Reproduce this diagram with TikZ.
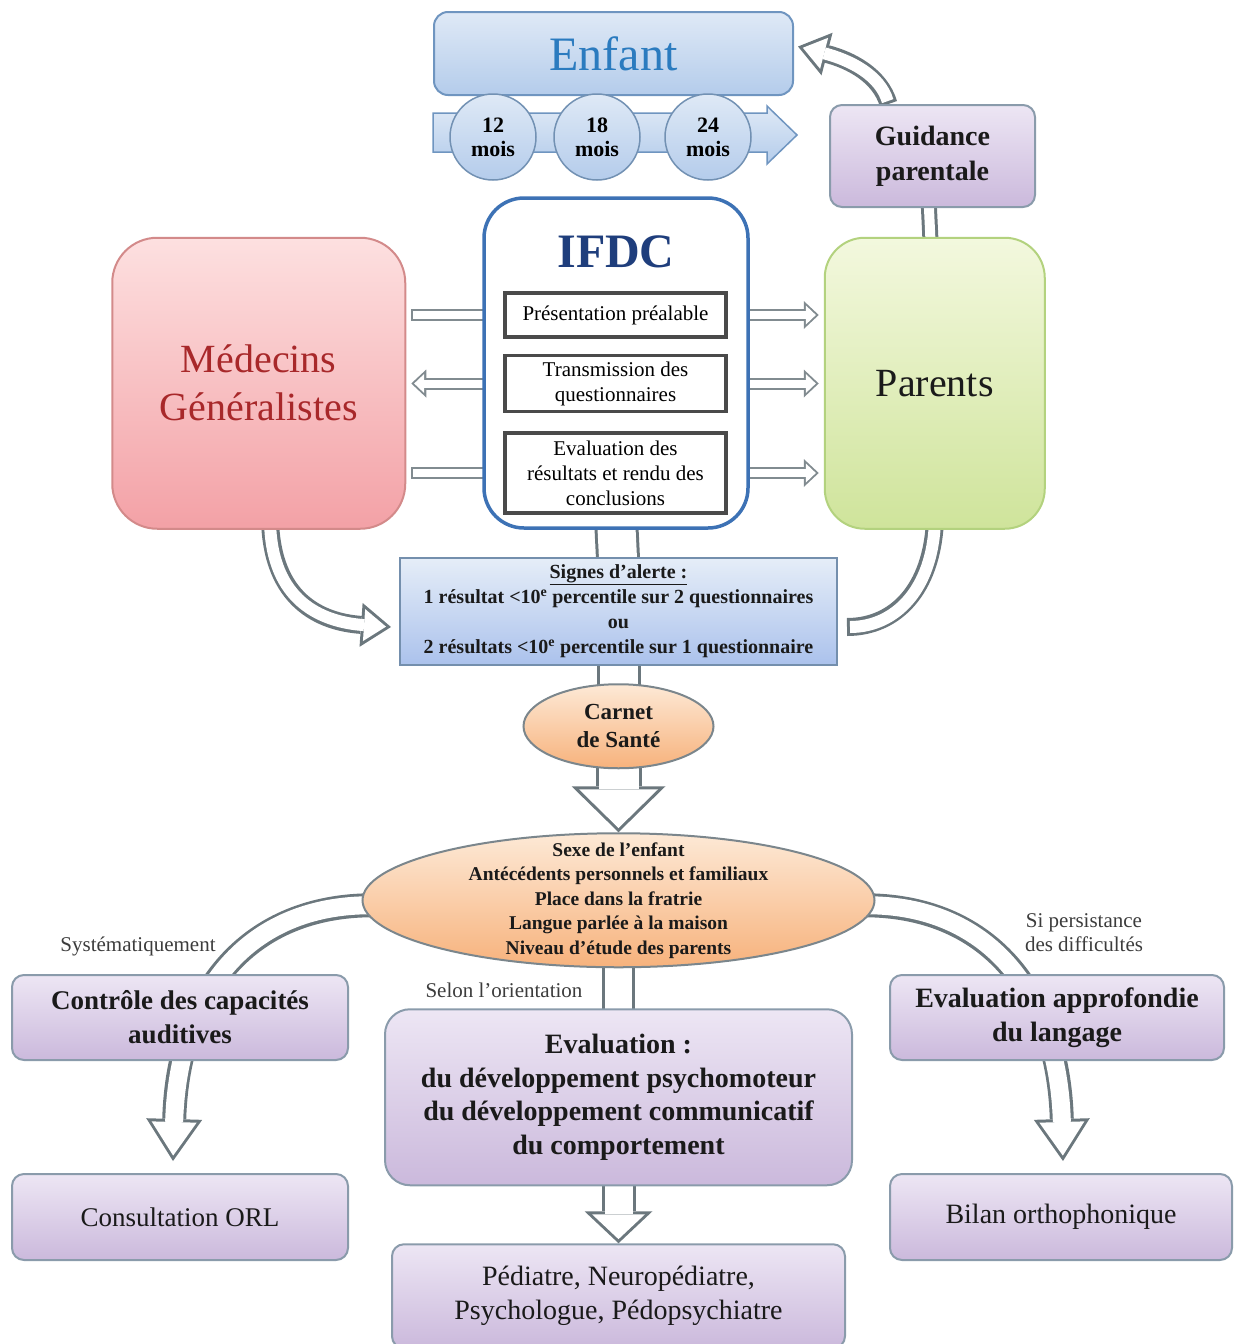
\documentclass[tikz,border=0pt]{standalone}
\usepackage{fontspec}
\setmainfont{Liberation Serif}
\usepackage{tikz}
\usetikzlibrary{arrows.meta, positioning, shapes.geometric, calc}

\definecolor{arrgray}{HTML}{6B777D}
\definecolor{lilastop}{HTML}{EDE6F4}
\definecolor{lilasbot}{HTML}{CBB9DC}
\definecolor{lilasline}{HTML}{8A9BAB}
\definecolor{bleutop}{HTML}{DFE9F6}
\definecolor{bleubot}{HTML}{B4CCEB}
\definecolor{bleuline}{HTML}{6F95C0}
\definecolor{rosetop}{HTML}{FDE0E0}
\definecolor{rosebot}{HTML}{F3A1A6}
\definecolor{roseline}{HTML}{D38A8A}
\definecolor{verttop}{HTML}{F3F8DE}
\definecolor{vertbot}{HTML}{CFE49B}
\definecolor{vertline}{HTML}{B3D27E}
\definecolor{ortop}{HTML}{FDE9D6}
\definecolor{orbot}{HTML}{F7B27C}
\definecolor{orline}{HTML}{7B868C}
\definecolor{ifdcline}{HTML}{3D72B5}
\definecolor{ifdcbleu}{HTML}{1F3E7C}
\definecolor{medrouge}{HTML}{A8282A}
\definecolor{enfantbleu}{HTML}{2B7BBF}
\definecolor{sousline}{HTML}{4A4A4A}
\definecolor{textdark}{HTML}{1A1A1A}

\pgfdeclarelayer{back}
\pgfsetlayers{back,main}

\begin{document}
\begin{tikzpicture}[
  x=1pt, y=-1pt,
  node distance=30pt,
  >=Latex,
  box/.style={
    rectangle, rounded corners=12pt,
    align=center, inner sep=2pt,
    text=textdark,
  },
  lilas/.style={box, draw=lilasline, line width=2pt, top color=lilastop, bottom color=lilasbot},
  bleu/.style={box, draw=bleuline, line width=2pt, top color=bleutop, bottom color=bleubot},
  rose/.style={box, draw=roseline, line width=2pt, top color=rosetop, bottom color=rosebot, rounded corners=45pt},
  vert/.style={box, draw=vertline, line width=2pt, top color=verttop, bottom color=vertbot, rounded corners=40pt},
  ovale/.style={ellipse, draw=orline, line width=2pt, top color=ortop, bottom color=orbot, align=center, inner sep=0pt, text=textdark},
  sousbox/.style={rectangle, draw=sousline, line width=3.5pt, fill=white, align=center, minimum width=221pt,
    font=\fontsize{21}{25}\selectfont},
  mois/.style={circle, draw=bleuline!80!gray, line width=1.5pt, top color=bleutop, bottom color=bleubot,
    minimum size=86pt, inner sep=0pt, align=center, font=\fontsize{22}{24}\selectfont\bfseries},
  etiquette/.style={align=center, text=textdark!85, font=\fontsize{21}{24}\selectfont},
  % hollow arrows
  band/.style={draw=arrgray, line width=#1,
    postaction={draw=white, line width=#1-6pt, shorten <=3pt, shorten >=3pt}},
  harrow/.style n args={6}{draw=arrgray, line width=#1, -{Triangle[width=#2, length=#3, line width=0pt]},
    postaction={draw=white, line width=#1-6pt, shorten <=3pt, shorten >=#6,
      -{Triangle[width=#4, length=#5, line width=0pt]}}},
  thinband/.style={draw=arrgray!85, line width=12pt,
    postaction={draw=white, line width=8pt, shorten <=2pt, shorten >=2pt}},
  thinarrow/.style={draw=arrgray!85, line width=12pt, -{Triangle[width=28pt, length=15pt, line width=0pt]},
    postaction={draw=white, line width=8pt, shorten <=2pt, shorten >=2.9pt,
      -{Triangle[width=19pt, length=10pt, line width=0pt]}}},
  courbe/.style={harrow={18pt}{44pt}{30pt}{32pt}{22pt}{5pt}},
  longue/.style={harrow={24pt}{56pt}{42pt}{45pt}{33.6pt}{5.4pt}},
]
\useasboundingbox (0,0) rectangle (1234,1344);

% --- Enfant et ages ---
\node[bleu, minimum width=359pt, minimum height=83pt, rounded corners=14pt, text=enfantbleu,
  font=\fontsize{48}{50}\selectfont] (enfant) at (613.5,53.5) {Enfant};
\draw[draw=bleuline, line width=1.5pt, top color=bleutop, bottom color=bleubot]
  (433,113) -- (767,113) -- (767,106) -- (797,135) -- (767,164) -- (767,152) -- (433,152) -- cycle;
\foreach \m/\xc in {12/493, 18/597, 24/708}
  \node[mois] (m\m) at (\xc,137) {\m\\mois};

\node[lilas, minimum width=205pt, minimum height=102pt, font=\fontsize{28}{35}\selectfont\bfseries]
  (guid) at (932.5,156) {Guidance\\parentale};

% --- IFDC ---
\node[box, draw=ifdcline, line width=3.5pt, fill=white, rounded corners=40pt,
  minimum width=264pt, minimum height=330pt] (ifdc) at (616,363) {};
\node[font=\fontsize{48}{50}\selectfont\bfseries, text=ifdcbleu] (titre) at (616,252) {IFDC};
\node[sousbox, minimum height=44pt] (pres) at (615.5,315) {Présentation préalable};
\node[sousbox, minimum height=56pt, below=15pt of pres] (trans) {Transmission des\\questionnaires};
\node[sousbox, minimum height=80pt, below=18pt of trans] (evalres) {Evaluation des\\résultats et rendu des\\conclusions};

% --- Medecins / Parents ---
\node[rose, minimum width=293pt, minimum height=291pt, text=medrouge, font=\fontsize{40}{48}\selectfont,
  left=76pt of ifdc.south west, anchor=south east] (med) {Médecins\\Généralistes};
\node[vert, minimum width=220pt, minimum height=291pt, font=\fontsize{40}{44}\selectfont,
  right=74pt of ifdc.south east, anchor=south west] (parents) {Parents};

% --- Signes d'alerte ---
\node[rectangle, draw=bleuline!70!gray, line width=2.5pt, top color=bleutop!80, bottom color=bleubot!95!blue,
  minimum width=437pt, minimum height=107pt, align=center, inner sep=0pt, text=textdark,
  font=\fontsize{20}{25}\selectfont\bfseries, below=27pt of ifdc, xshift=2.5pt] (signes)
  {\underline{Signes d'alerte :}\\
   1 résultat <10\textsuperscript{e} percentile sur 2 questionnaires\\
   ou\\
   2 résultats <10\textsuperscript{e} percentile sur 1 questionnaire};

\node[ovale, minimum width=190pt, minimum height=84pt, font=\fontsize{23}{28}\selectfont\bfseries,
  below=17pt of signes] (carnet) {Carnet\\de Santé};
\node[ovale, minimum width=512pt, minimum height=134pt, inner ysep=-20pt,
  font=\fontsize{19.5}{24.5}\selectfont\bfseries, below=63pt of carnet] (facteurs)
  {Sexe de l'enfant\\Antécédents personnels et familiaux\\Place dans la fratrie\\Langue parlée à la maison\\Niveau d'étude des parents};

% --- Orientations ---
\node[lilas, minimum width=336pt, minimum height=85pt, font=\fontsize{27}{34}\selectfont\bfseries]
  (ctrl) at (180,1017.5) {Contrôle des capacités\\auditives};
\node[lilas, minimum width=336pt, minimum height=86pt, font=\fontsize{27}{34}\selectfont,
  below=112pt of ctrl] (orl) {Consultation ORL};
\node[lilas, minimum width=467pt, minimum height=176pt, rounded corners=25pt,
  font=\fontsize{28}{33.5}\selectfont\bfseries, below=40pt of facteurs] (evalbox)
  {Evaluation :\\du développement psychomoteur\\du développement communicatif\\du comportement};
\node[lilas, minimum width=453pt, minimum height=104pt, font=\fontsize{28}{34}\selectfont,
  below=57pt of evalbox] (pedia) {Pédiatre, Neuropédiatre,\\Psychologue, Pédopsychiatre};
\node[lilas, minimum width=334pt, minimum height=85pt, font=\fontsize{28}{34}\selectfont\bfseries]
  (eappro) at (1057,1017.5) {Evaluation approfondie\\du langage};
\node[lilas, minimum width=342pt, minimum height=86pt, font=\fontsize{28}{34}\selectfont,
  below=112pt of eappro, xshift=4pt] (bilan) {Bilan orthophonique};

\node[etiquette] (syst) at (138,946) {Systématiquement};
\node[etiquette] (persist) at (1084,933) {Si persistance\\des difficultés};
\node[etiquette] (orient) at (504,990) {Selon l'orientation};

% --- Connectors ---
\begin{pgfonlayer}{back}
\draw[courbe] ([xshift=-44pt]guid.north) .. controls (880,75) and (850,60) .. ($(enfant.east)+(4,-7)$);
\draw[band=16pt] ([xshift=-4pt,yshift=10pt]guid.south) -- ([xshift=-4pt,yshift=-10pt]parents.north);

\draw[thinband] ($(med.east |- pres)+(5,0)$) -- ($(ifdc.west |- pres)+(12,0)$);
\draw[thinarrow] ($(ifdc.west |- trans)+(12,0)$) -- ($(med.east |- trans)+(5,0)$);
\draw[thinband] ($(med.east |- evalres)+(5,0)$) -- ($(ifdc.west |- evalres)+(12,0)$);
\foreach \r in {pres, trans, evalres}
  \draw[thinarrow] ($(ifdc.east |- \r)+(-12,0)$) -- ($(parents.west |- \r)+(-5,0)$);

\draw[band=44pt] ([yshift=12pt]ifdc.south) -- ([yshift=-12pt]signes.north);
\draw[band=44pt] ([yshift=12pt]signes.south) -- (carnet.center);
\draw[courbe] (270,520) .. controls (272,600) and (320,622) .. (391,627);
\draw[band=18pt] (935,520) .. controls (932,590) and (895,627) .. (847,627);

\draw[harrow={46pt}{94pt}{46pt}{79pt}{38.8pt}{4.2pt}] (carnet.center) -- (facteurs.north);
\draw[band=33pt] (facteurs.center) -- (evalbox.center);
\draw[harrow={34pt}{68pt}{32pt}{53pt}{24.9pt}{4.1pt}] (evalbox.center) -- (pedia.north);
\draw[longue] ($(facteurs.west)+(12,5)$) .. controls (250,905) and (178,990) .. ($(orl.north)+(-7,-12)$);
\draw[longue] ($(facteurs.east)+(-12,5)$) .. controls (986,905) and (1058,990) .. ($(bilan.north)+(2,-12)$);
\end{pgfonlayer}

\end{tikzpicture}
\end{document}
